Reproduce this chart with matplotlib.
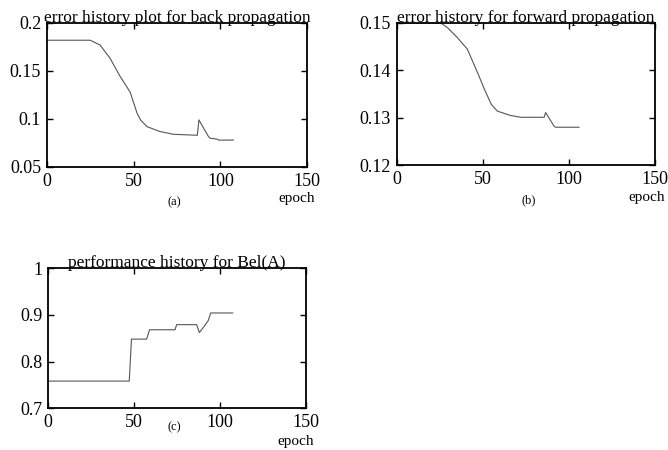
import matplotlib
matplotlib.use('Agg')
import matplotlib.pyplot as plt

plt.rcParams['font.family'] = ['Liberation Serif', 'DejaVu Serif']

# (a) error history, back propagation
bp_epoch = [0, 25, 30.7, 36.5, 42, 48, 52, 54, 57.7, 65, 73, 86.7, 87.6, 93, 94, 98, 99, 107.5]
bp_error = [0.182, 0.182, 0.177, 0.163, 0.145, 0.128, 0.106, 0.099, 0.092, 0.087, 0.084, 0.083,
            0.099, 0.082, 0.080, 0.079, 0.078, 0.078]

# (b) error history, forward propagation
fp_epoch = [0, 25.6, 29.5, 35, 41, 47, 51, 55, 58.5, 66, 72, 85.7, 86.6, 91.5, 92.4, 106]
fp_error = [0.150, 0.150, 0.149, 0.147, 0.1445, 0.1395, 0.136, 0.1328, 0.1314, 0.1305, 0.1301,
            0.1301, 0.1311, 0.1282, 0.128, 0.128]

# (c) performance history for Bel(A)
bel_epoch = [0, 47.2, 48.5, 57.3, 59, 73.8, 74.8, 86.4, 88, 90.3, 93.2, 94.6, 107.4]
bel_value = [0.758, 0.758, 0.848, 0.848, 0.868, 0.868, 0.879, 0.879, 0.862, 0.873, 0.888, 0.904, 0.904]

xticks = [0, 50, 100, 150]

fig = plt.figure(figsize=(6.68, 4.5), dpi=100)

panels = [
    # rect, x, y, title, ylim, yticks, yticklabels, sub label, sub pos, epoch pos
    ([0.070, 0.629, 0.390, 0.320], bp_epoch, bp_error, 'error history plot for back propagation',
     (0.05, 0.2), [0.05, 0.1, 0.15, 0.2], ['0.05', '0.1', '0.15', '0.2'], '(a)', (0.49, -0.245), (0.96, -0.22)),
    ([0.594, 0.633, 0.386, 0.316], fp_epoch, fp_error, 'error history for forward propagation',
     (0.12, 0.15), [0.12, 0.13, 0.14, 0.15], ['0.12', '0.13', '0.14', '0.15'], '(b)', (0.51, -0.25), (0.97, -0.225)),
    ([0.072, 0.093, 0.386, 0.311], bel_epoch, bel_value, 'performance history for Bel(A)',
     (0.7, 1.0), [0.7, 0.8, 0.9, 1.0], ['0.7', '0.8', '0.9', '1'], '(c)', (0.49, -0.14), (0.96, -0.235)),
]

for rect, x, y, title, ylim, yt, ytl, sub, subpos, eppos in panels:
    ax = fig.add_axes(rect)
    ax.plot(x, y, color='#555555', lw=0.8)
    ax.set_xlim(0, 150)
    ax.set_ylim(*ylim)
    ax.set_xticks(xticks)
    ax.set_yticks(yt)
    ax.set_yticklabels(ytl)
    ax.tick_params(direction='in', top=True, right=True, length=4, width=1,
                   labelsize=13, pad=4)
    for s in ax.spines.values():
        s.set_linewidth(1.3)
    ax.set_title(title, fontsize=12.5, pad=1)
    ax.text(subpos[0], subpos[1], sub, transform=ax.transAxes, ha='center', va='center', fontsize=9)
    ax.text(eppos[0], eppos[1], 'epoch', transform=ax.transAxes, ha='center', va='center', fontsize=11)

fig.savefig('out.png', dpi=100)
